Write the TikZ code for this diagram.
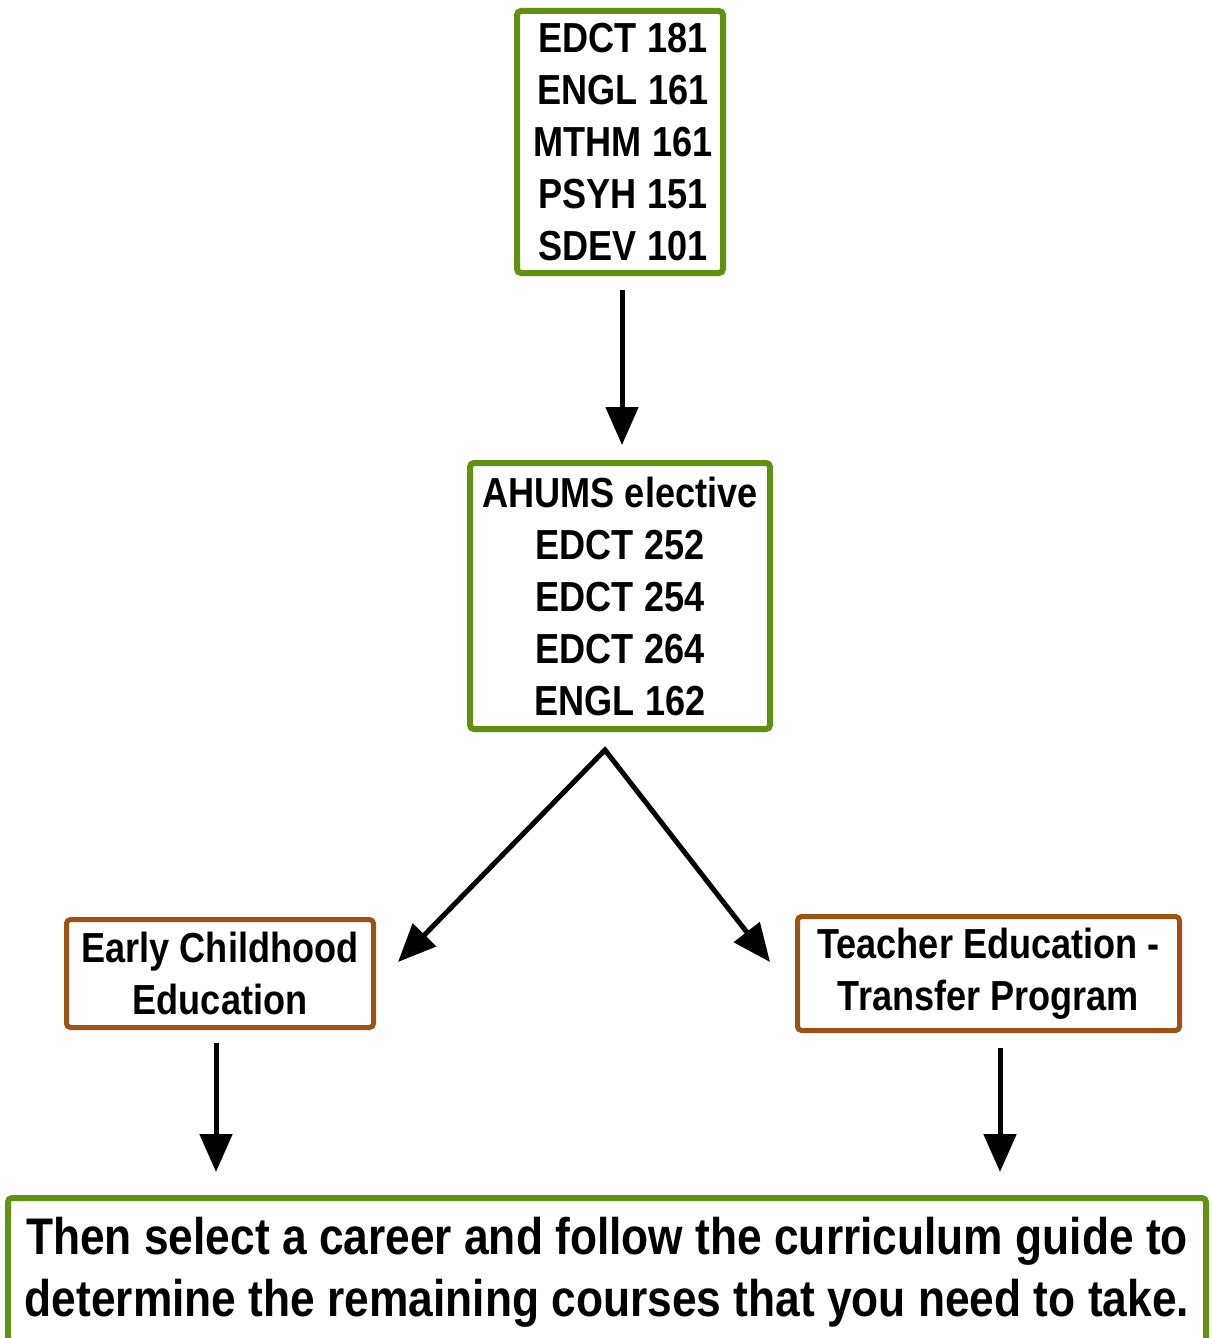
\documentclass[tikz,border=0pt]{standalone}
\usepackage{fontspec}
\setmainfont{Liberation Sans}[FakeStretch=0.86]
\usetikzlibrary{arrows.meta,calc}
\definecolor{boxgreen}{RGB}{98,145,17}
\definecolor{boxbrown}{RGB}{155,82,20}
\tikzset{
  gbox/.style={draw=boxgreen, line width=6pt, rounded corners=4pt, fill=white,
    inner sep=0pt, align=center, font=\bfseries\fontsize{42}{52}\selectfont},
  bbox/.style={draw=boxbrown, line width=5pt, rounded corners=4pt, fill=white,
    inner sep=0pt, align=center, font=\bfseries\fontsize{42}{52}\selectfont},
  fbox/.style={draw=boxgreen, line width=6pt, rounded corners=4pt, fill=white,
    inner sep=0pt, align=center, font=\bfseries\fontsize{51.5}{62}\selectfont},
  arr/.style={line width=5pt, -{Triangle[length=38pt,width=32pt]}}
}
\begin{document}
\begin{tikzpicture}[x=1pt,y=-1pt]
\useasboundingbox (0,0) rectangle (1212,1338);
\clip (0,0) rectangle (1212,1338);
\node[gbox, minimum width=206pt, minimum height=262pt] (top) at (620,142)
  {\hspace*{6pt}EDCT 181\\\hspace*{6pt}ENGL 161\\\hspace*{6pt}MTHM 161\\\hspace*{6pt}PSYH 151\\\hspace*{6pt}SDEV 101};
\node[gbox, minimum width=300pt, minimum height=266pt] (mid) at (620,596)
  {AHUMS elective\\EDCT 252\\EDCT 254\\EDCT 264\\ENGL 162};
\node[bbox, minimum width=307pt, minimum height=108pt] (ece) at (220,973.5)
  {Early Childhood\\Education};
\node[bbox, minimum width=382pt, minimum height=114pt] (teach) at (988.5,973.5)
  {Teacher Education -\\Transfer Program};
\node[fbox, minimum width=1198pt, minimum height=148pt] (final) at (607,1272)
  {Then select a career and follow the curriculum guide to\\determine the remaining courses that you need to take.};
\coordinate (apex) at ($(mid.south)+(-15,18)$);
\draw[arr] ($(top.south)+(2,14)$) -- ($(mid.north)+(2,-15)$);
\draw[arr] (apex) -- ($(ece.east)+(22,-11.5)$);
\draw[arr] (apex) -- ($(teach.west)+(-25,-11.5)$);
\draw[line width=5pt] ($(apex)+(-3,3)$) -- (apex) -- ($(apex)+(2.4,3)$);
\draw[arr] ($(ece.south)+(-4,13)$) -- ($(ece.south |- final.north)+(-4,-23)$);
\draw[arr] ($(teach.south)+(11.5,15)$) -- ($(teach.south |- final.north)+(11.5,-23)$);
\end{tikzpicture}
\end{document}
